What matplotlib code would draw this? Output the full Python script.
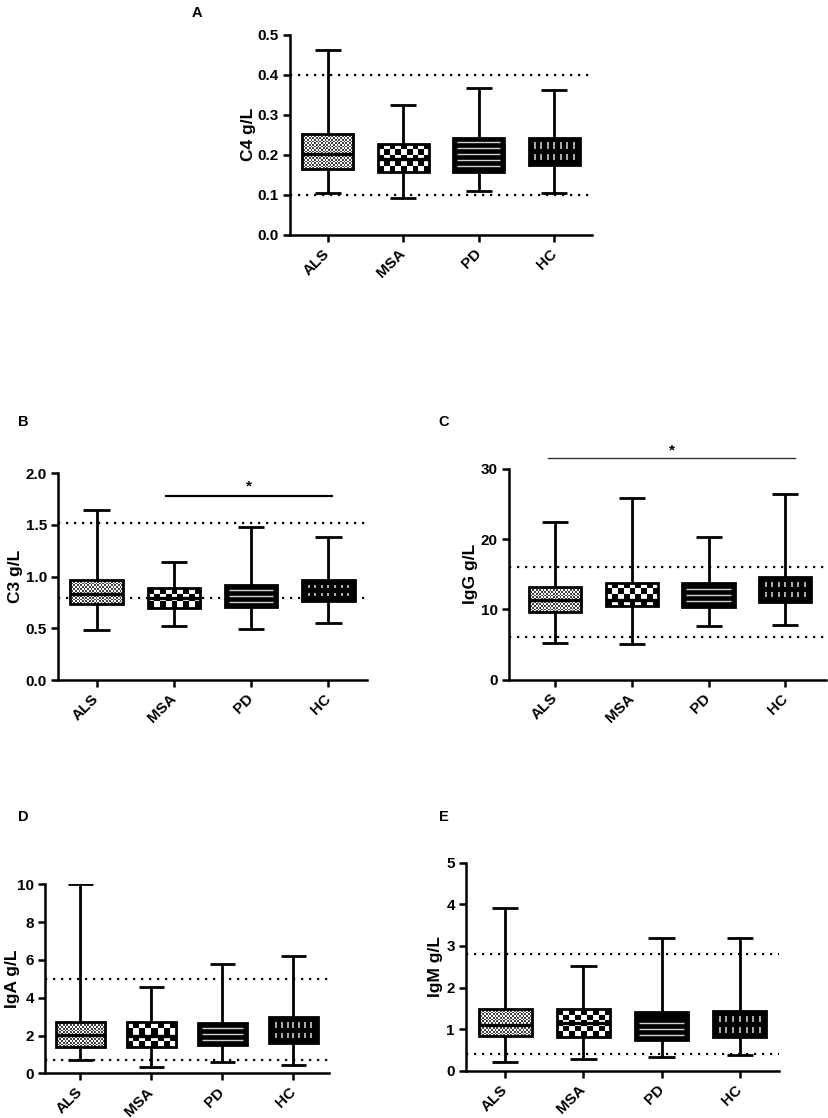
import numpy as np
import matplotlib
matplotlib.use('Agg')
import matplotlib.pyplot as plt

plt.rcParams['font.family'] = ['Liberation Sans', 'DejaVu Sans']
plt.rcParams['font.weight'] = 'bold'

# =============================================================================
# Data
# =============================================================================
groups = ['ALS', 'MSA', 'PD', 'HC']

c4_min = [0.105, 0.093, 0.110, 0.105]
c4_q1 = [0.165, 0.156, 0.158, 0.175]
c4_med = [0.201, 0.190, 0.200, 0.209]
c4_q3 = [0.252, 0.228, 0.243, 0.243]
c4_max = [0.461, 0.324, 0.366, 0.362]
c4_ref = [0.1, 0.4]

c3_min = [0.484, 0.523, 0.494, 0.549]
c3_q1 = [0.735, 0.694, 0.704, 0.765]
c3_med = [0.830, 0.790, 0.800, 0.866]
c3_q3 = [0.968, 0.893, 0.922, 0.968]
c3_max = [1.640, 1.140, 1.478, 1.380]
c3_ref = [0.79, 1.52]

igg_min = [5.2, 5.06, 7.6, 7.7]
igg_q1 = [9.6, 10.5, 10.4, 11.1]
igg_med = [11.3, 11.3, 12.0, 12.8]
igg_q3 = [13.2, 13.8, 13.7, 14.6]
igg_max = [22.5, 25.8, 20.3, 26.4]
igg_ref = [6, 16]

iga_min = [0.70, 0.35, 0.60, 0.44]
iga_q1 = [1.38, 1.41, 1.50, 1.60]
iga_med = [2.03, 2.00, 2.05, 2.28]
iga_q3 = [2.71, 2.73, 2.65, 2.97]
iga_max = [10.0, 4.55, 5.77, 6.22]
iga_ref = [0.7, 5]

igm_min = [0.20, 0.28, 0.32, 0.38]
igm_q1 = [0.83, 0.82, 0.74, 0.80]
igm_med = [1.10, 1.15, 1.08, 1.12]
igm_q3 = [1.49, 1.49, 1.40, 1.44]
igm_max = [3.92, 2.52, 3.20, 3.19]
igm_ref = [0.4, 2.8]

W, H = 829, 1118
BOX_W = 0.68
CAP_W = 0.34
LW = 2.0

fig = plt.figure(figsize=(W / 100, H / 100), dpi=100)


def px_axes(left, right, top, bottom):
    return fig.add_axes([left / W, 1 - bottom / H, (right - left) / W, (bottom - top) / H])


def px_per_unit(ax):
    p0 = ax.transData.transform((0, 0))
    p1 = ax.transData.transform((1, 1))
    return abs(p1[0] - p0[0]), abs(p1[1] - p0[1])


def checker(ax, patch, x0, x1, y0, y1, cell, sx, sy, dark):
    nx = max(2, int(round((x1 - x0) * sx / cell)))
    ny = max(2, int(round((y1 - y0) * sy / cell)))
    grid = (np.add.outer(np.arange(ny), np.arange(nx)) % 2).astype(float)
    im = ax.imshow(grid, extent=(x0, x1, y0, y1), cmap='gray', vmin=-dark, vmax=1,
                   interpolation='nearest', aspect='auto', origin='lower', zorder=2)
    im.set_clip_path(patch)


def draw_panel(ax, mins, q1, med, q3, maxs, ref, ylim, yticks, ylabels, ylab,
               xlim=(-0.5, 3.5), label_x=-0.13):
    ax.set_xlim(*xlim)
    ax.set_ylim(*ylim)
    sx, sy = px_per_unit(ax)
    x = np.arange(len(groups))

    # reference range
    for r in ref:
        ax.axhline(r, color='black', lw=1.6, ls=(0, (1, 2.6)), zorder=1)

    # whiskers and caps
    for i in range(len(groups)):
        ax.vlines(x[i], mins[i], q1[i], color='black', lw=LW, zorder=3)
        ax.vlines(x[i], q3[i], maxs[i], color='black', lw=LW, zorder=3)
        ax.hlines([mins[i], maxs[i]], x[i] - CAP_W / 2, x[i] + CAP_W / 2, color='black', lw=LW, zorder=3)

    heights = np.array(q3) - np.array(q1)
    bars = ax.bar(x, heights, bottom=q1, width=BOX_W, color='black', edgecolor='black',
                  linewidth=LW, zorder=2.5)

    ins_x = 4 / sx
    ins_y = 4 / sy
    for i, b in enumerate(bars):
        x0, x1 = x[i] - BOX_W / 2, x[i] + BOX_W / 2
        if i == 0:
            checker(ax, b, x0, x1, q1[i], q3[i], 1.7, sx, sy, 0.35)
            ax.hlines(med[i], x0, x1, color='black', lw=2.4, zorder=3)
            b.set_facecolor('none')
        elif i == 1:
            checker(ax, b, x0, x1, q1[i], q3[i], 6.0, sx, sy, 0.0)
            ax.hlines(med[i], x0, x1, color='black', lw=2.4, zorder=3)
            b.set_facecolor('none')
        elif i == 2:
            step = 6.0 / sy
            ys = np.arange(q1[i] + ins_y * 1.3, q3[i] - ins_y * 1.1, step)
            ax.hlines(ys, x0 + ins_x, x1 - ins_x, color='#cfcfcf', lw=1.0, zorder=3)
        else:
            xs = np.linspace(x0 + ins_x * 1.6, x1 - ins_x * 1.6, 7)
            gap = 2.5 / sy
            ax.vlines(xs, q1[i] + ins_y * 1.2, med[i] - gap, color='#dcdcdc', lw=1.1, zorder=3)
            ax.vlines(xs, med[i] + gap, q3[i] - ins_y * 1.2, color='#dcdcdc', lw=1.1, zorder=3)

    ax.set_xlim(*xlim)
    ax.set_ylim(*ylim)
    for s in ['top', 'right']:
        ax.spines[s].set_visible(False)
    for s in ['left', 'bottom']:
        ax.spines[s].set_linewidth(1.8)
    ax.tick_params(width=1.8, length=5, labelsize=11, pad=3)
    ax.tick_params(axis='x', pad=7)
    ax.set_yticks(yticks)
    ax.set_yticklabels(ylabels, fontweight='bold')
    ax.set_xticks(x)
    ax.set_xticklabels(groups, rotation=45, ha='right', va='center', rotation_mode='anchor',
                       fontweight='bold')
    ax.set_ylabel(ylab, fontsize=12.5, fontweight='bold', va='center')
    ax.yaxis.set_label_coords(label_x, 0.5)


# panel A
axA = px_axes(290, 592, 34.6, 235)
draw_panel(axA, c4_min, c4_q1, c4_med, c4_q3, c4_max, c4_ref, (0, 0.5),
           [0, 0.1, 0.2, 0.3, 0.4, 0.5], ['0.0', '0.1', '0.2', '0.3', '0.4', '0.5'], 'C4 g/L',
           label_x=-0.139)

# panel B
axB = px_axes(58, 367, 473, 680)
draw_panel(axB, c3_min, c3_q1, c3_med, c3_q3, c3_max, c3_ref, (0, 2.0),
           [0, 0.5, 1.0, 1.5, 2.0], ['0.0', '0.5', '1.0', '1.5', '2.0'], 'C3 g/L',
           label_x=-0.139)
axB.plot([0.9, 3.05], [1.78, 1.78], color='black', lw=1.6, clip_on=False)
axB.text(1.97, 1.80, '*', ha='center', va='bottom', fontsize=11, fontweight='bold')

# panel C
axC = px_axes(509, 826, 469, 679.5)
draw_panel(axC, igg_min, igg_q1, igg_med, igg_q3, igg_max, igg_ref, (0, 30),
           [0, 10, 20, 30], ['0', '10', '20', '30'], 'IgG g/L', xlim=(-0.6, 3.53),
           label_x=-0.123)
axC.plot([-0.09, 3.12], [31.5, 31.5], color='#333333', lw=1.0, clip_on=False)
axC.text(1.52, 31.7, '*', ha='center', va='bottom', fontsize=11, fontweight='bold')

# panel D
axD = px_axes(45, 329, 884.3, 1073.3)
draw_panel(axD, iga_min, iga_q1, iga_med, iga_q3, iga_max, iga_ref, (0, 10),
           [0, 2, 4, 6, 8, 10], ['0', '2', '4', '6', '8', '10'], 'IgA g/L',
           label_x=-0.115)

# panel E
axE = px_axes(466, 779, 862.7, 1070.7)
draw_panel(axE, igm_min, igm_q1, igm_med, igm_q3, igm_max, igm_ref, (0, 5),
           [0, 1, 2, 3, 4, 5], ['0', '1', '2', '3', '4', '5'], 'IgM g/L',
           label_x=-0.096)

# panel letters
for letter, (px, py) in zip('ABCDE', [(197, 13), (23, 422), (444, 422), (23, 817), (444, 817)]):
    fig.text(px / W, 1 - py / H, letter, ha='center', va='center', fontsize=10.5, fontweight='bold')

fig.savefig('out.png', dpi=100)
